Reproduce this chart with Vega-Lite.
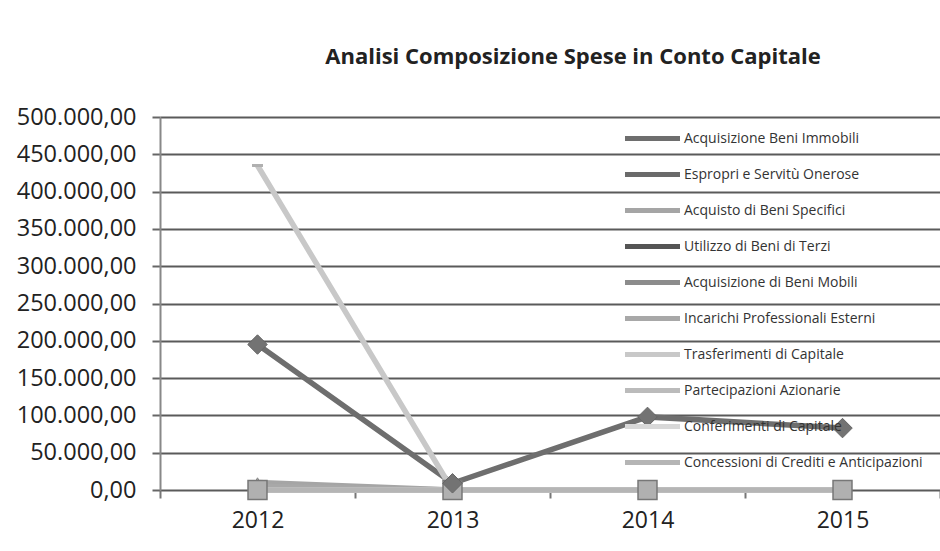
{
  "$schema": "https://vega.github.io/schema/vega-lite/v6.json",
  "autosize": "none",
  "width": 780,
  "height": 373,
  "padding": {"left": 160, "top": 117, "right": 0, "bottom": 61},
  "background": "white",
  "config": {
    "locale": {"number": {"decimal": ",", "thousands": ".", "grouping": [3], "currency": ["", " €"]}},
    "font": "Open Sans",
    "view": {"stroke": null}
  },
  "title": {
    "text": "Analisi Composizione Spese in Conto Capitale",
    "fontSize": 22,
    "fontWeight": "bold",
    "font": "Open Sans",
    "color": "#222222",
    "anchor": "middle",
    "dx": 23,
    "offset": 36
  },
  "data": {
    "values": [
      {"serie": "Acquisizione Beni Immobili", "anno": "2012", "valore": 195000},
      {"serie": "Acquisizione Beni Immobili", "anno": "2013", "valore": 9000},
      {"serie": "Acquisizione Beni Immobili", "anno": "2014", "valore": 98000},
      {"serie": "Acquisizione Beni Immobili", "anno": "2015", "valore": 83000},
      {"serie": "Espropri e Servitù Onerose", "anno": "2012", "valore": 0},
      {"serie": "Espropri e Servitù Onerose", "anno": "2013", "valore": 0},
      {"serie": "Espropri e Servitù Onerose", "anno": "2014", "valore": 0},
      {"serie": "Espropri e Servitù Onerose", "anno": "2015", "valore": 0},
      {"serie": "Acquisto di Beni Specifici", "anno": "2012", "valore": 10000},
      {"serie": "Acquisto di Beni Specifici", "anno": "2013", "valore": 0},
      {"serie": "Acquisto di Beni Specifici", "anno": "2014", "valore": 0},
      {"serie": "Acquisto di Beni Specifici", "anno": "2015", "valore": 0},
      {"serie": "Utilizzo di Beni di Terzi", "anno": "2012", "valore": 0},
      {"serie": "Utilizzo di Beni di Terzi", "anno": "2013", "valore": 0},
      {"serie": "Utilizzo di Beni di Terzi", "anno": "2014", "valore": 0},
      {"serie": "Utilizzo di Beni di Terzi", "anno": "2015", "valore": 0},
      {"serie": "Acquisizione di Beni Mobili", "anno": "2012", "valore": 0},
      {"serie": "Acquisizione di Beni Mobili", "anno": "2013", "valore": 0},
      {"serie": "Acquisizione di Beni Mobili", "anno": "2014", "valore": 0},
      {"serie": "Acquisizione di Beni Mobili", "anno": "2015", "valore": 0},
      {"serie": "Incarichi Professionali Esterni", "anno": "2012", "valore": 5000},
      {"serie": "Incarichi Professionali Esterni", "anno": "2013", "valore": 0},
      {"serie": "Incarichi Professionali Esterni", "anno": "2014", "valore": 0},
      {"serie": "Incarichi Professionali Esterni", "anno": "2015", "valore": 0},
      {"serie": "Trasferimenti di Capitale", "anno": "2012", "valore": 435000},
      {"serie": "Trasferimenti di Capitale", "anno": "2013", "valore": 0},
      {"serie": "Trasferimenti di Capitale", "anno": "2014", "valore": 0},
      {"serie": "Trasferimenti di Capitale", "anno": "2015", "valore": 0},
      {"serie": "Partecipazioni Azionarie", "anno": "2012", "valore": 0},
      {"serie": "Partecipazioni Azionarie", "anno": "2013", "valore": 0},
      {"serie": "Partecipazioni Azionarie", "anno": "2014", "valore": 0},
      {"serie": "Partecipazioni Azionarie", "anno": "2015", "valore": 0},
      {"serie": "Conferimenti di Capitale", "anno": "2012", "valore": 0},
      {"serie": "Conferimenti di Capitale", "anno": "2013", "valore": 0},
      {"serie": "Conferimenti di Capitale", "anno": "2014", "valore": 0},
      {"serie": "Conferimenti di Capitale", "anno": "2015", "valore": 0},
      {"serie": "Concessioni di Crediti e Anticipazioni", "anno": "2012", "valore": 0},
      {"serie": "Concessioni di Crediti e Anticipazioni", "anno": "2013", "valore": 0},
      {"serie": "Concessioni di Crediti e Anticipazioni", "anno": "2014", "valore": 0},
      {"serie": "Concessioni di Crediti e Anticipazioni", "anno": "2015", "valore": 0}
    ]
  },
  "encoding": {
    "x": {
      "field": "anno",
      "type": "ordinal",
      "scale": {"type": "band", "paddingInner": 0, "paddingOuter": 0},
      "axis": {
        "title": null,
        "labelAngle": 0,
        "labelFontSize": 23,
        "labelColor": "#222222",
        "labelPadding": 11,
        "tickBand": "extent",
        "tickSize": 8,
        "tickColor": "#777777",
        "tickWidth": 2,
        "domain": false,
        "grid": false
      }
    },
    "y": {
      "field": "valore",
      "type": "quantitative",
      "scale": {"domain": [0, 500000], "nice": false},
      "axis": {
        "title": null,
        "values": [0, 50000, 100000, 150000, 200000, 250000, 300000, 350000, 400000, 450000, 500000],
        "format": ",.2f",
        "labelFontSize": 23.5,
        "labelColor": "#222222",
        "labelPadding": 16,
        "tickSize": 8,
        "tickColor": "#666666",
        "tickWidth": 2,
        "grid": true,
        "gridColor": "#5a5a5a",
        "gridWidth": 2,
        "gridOpacity": 1,
        "domain": true,
        "domainColor": "#888888",
        "domainWidth": 2
      }
    }
  },
  "layer": [
    {
      "mark": {"type": "line", "strokeWidth": 5.5},
      "encoding": {
        "color": {
          "field": "serie",
          "type": "nominal",
          "sort": null,
          "scale": {
            "domain": ["Acquisizione Beni Immobili", "Espropri e Servitù Onerose", "Acquisto di Beni Specifici", "Utilizzo di Beni di Terzi", "Acquisizione di Beni Mobili", "Incarichi Professionali Esterni", "Trasferimenti di Capitale", "Partecipazioni Azionarie", "Conferimenti di Capitale", "Concessioni di Crediti e Anticipazioni"],
            "range": ["#6e6e6e", "#6a6a6a", "#a5a5a5", "#555555", "#8c8c8c", "#a8a8a8", "#c8c8c8", "#bbbbbb", "#d8d8d8", "#b5b5b5"]
          },
          "legend": {
            "title": null,
            "orient": "none",
            "legendX": 485,
            "legendY": 14,
            "symbolType": "M-5.5,0H5.5",
            "symbolSize": 100,
            "symbolStrokeWidth": 5,
            "labelFontSize": 14,
            "labelLimit": 400,
            "labelColor": "#333333",
            "labelOffset": 24,
            "rowPadding": 15
          }
        }
      }
    },
    {
      "transform": [{"filter": {"field": "serie", "equal": "Trasferimenti di Capitale"}}],
      "mark": {"type": "point", "shape": "stroke", "filled": false, "opacity": 1, "size": 120, "stroke": "#b0b0b0", "strokeWidth": 3}
    },
    {
      "transform": [{"filter": {"field": "serie", "equal": "Acquisto di Beni Specifici"}}],
      "mark": {"type": "point", "shape": "triangle-up", "filled": true, "opacity": 1, "size": 120, "fill": "#a5a5a5", "stroke": "#888888", "strokeWidth": 1}
    },
    {
      "transform": [{"filter": {"field": "serie", "equal": "Espropri e Servitù Onerose"}}],
      "mark": {"type": "point", "shape": "square", "filled": true, "opacity": 1, "size": 360, "fill": "#b0b0b0", "stroke": "#777777", "strokeWidth": 1.5}
    },
    {
      "transform": [{"filter": {"field": "serie", "equal": "Acquisizione Beni Immobili"}}],
      "mark": {"type": "point", "shape": "diamond", "filled": true, "opacity": 1, "size": 380, "fill": "#737373", "stroke": "#666666", "strokeWidth": 1}
    }
  ]
}
